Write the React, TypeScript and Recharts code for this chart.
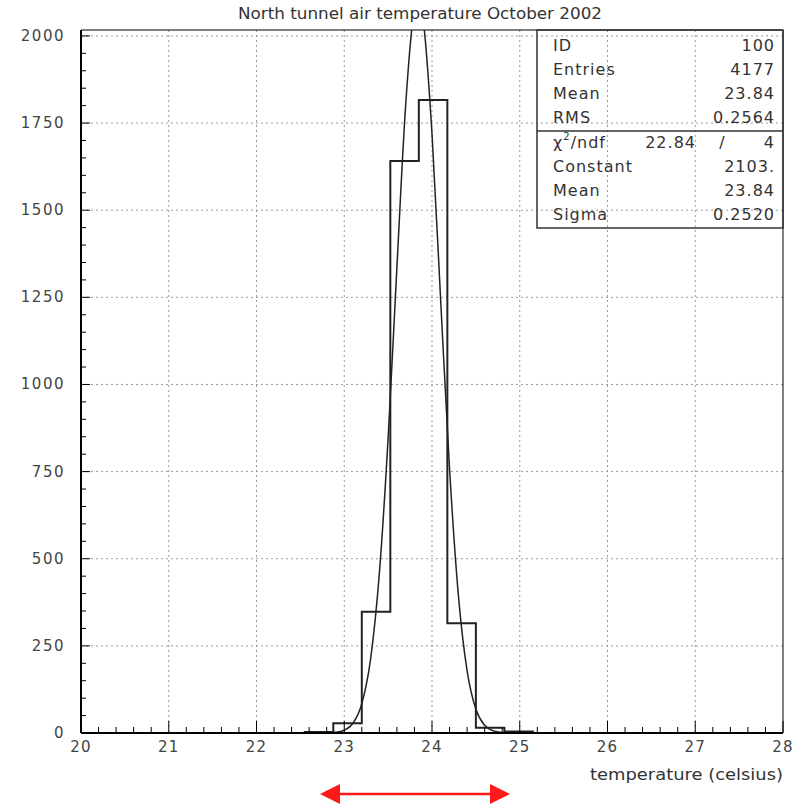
import { ComposedChart, Line, XAxis, YAxis, CartesianGrid, ReferenceArea } from "recharts";

// histogram bins (edges in celsius, counts per bin)
const binEdges = [22.55, 22.875, 23.2, 23.525, 23.85, 24.175, 24.5, 24.825, 25.15];
const binCounts = [3, 28, 348, 1641, 1816, 315, 15, 4];

// gaussian fit curve
const fitX = [22.7, 22.8, 22.9, 23.0, 23.1, 23.2, 23.3, 23.4, 23.5, 23.6, 23.7, 23.8, 23.84, 23.9, 24.0, 24.1, 24.2, 24.3, 24.4, 24.5, 24.6, 24.7, 24.8, 24.9];
const fitY = [0, 0.4, 2, 8, 28, 84, 212, 458, 846, 1336, 1802, 2077, 2103, 2044, 1719, 1235, 758, 397, 178, 68, 22, 6, 1.5, 0.3];

const xMajor = [20, 21, 22, 23, 24, 25, 26, 27, 28];
const yMajor = [0, 250, 500, 750, 1000, 1250, 1500, 1750, 2000];

const statsTop = [
  ["ID", "100"],
  ["Entries", "4177"],
  ["Mean", "23.84"],
  ["RMS", "0.2564"],
];
const statsFit = [
  ["Constant", "2103."],
  ["Mean", "23.84"],
  ["Sigma", "0.2520"],
];
const chiNdf = ["22.84", "4"];

const Y_MAX = 2017;
const ink = "#333";
const font = "'DejaVu Sans', sans-serif";

const xTicks: number[] = [];
xMajor.forEach((m, i) => {
  xTicks.push(m);
  if (i < xMajor.length - 1) [0.2, 0.4, 0.6, 0.8].forEach((f) => xTicks.push(+(m + f).toFixed(1)));
});
const yTicks: number[] = [];
yMajor.forEach((m, i) => {
  yTicks.push(m);
  if (i < yMajor.length - 1) [50, 100, 150, 200].forEach((f) => yTicks.push(m + f));
});

const histData: { x: number; y: number }[] = [{ x: binEdges[0], y: 0 }];
binCounts.forEach((c, i) => histData.push({ x: binEdges[i], y: c }));
histData.push({ x: binEdges[binEdges.length - 1], y: 0 });

const fitData = fitX.map((x, i) => ({ x, y: fitY[i] }));

const XTick = (props: any) => {
  const { x, y, payload } = props;
  const v = payload.value;
  const major = Math.abs(v - Math.round(v)) < 1e-6;
  return (
    <g>
      <line x1={x} y1={y} x2={x} y2={y - (major ? 12 : 6)} stroke="#000" strokeWidth={1} />
      {major && (
        <text x={x} y={y + 19} textAnchor="middle" fontFamily={font} fontSize={15} letterSpacing={1.2} fill="#444">
          {v}
        </text>
      )}
    </g>
  );
};

const YTick = (props: any) => {
  const { x, y, payload } = props;
  const v = payload.value;
  const major = v % 250 === 0;
  return (
    <g>
      <line x1={x} y1={y} x2={x + (major ? 9 : 5)} y2={y} stroke="#000" strokeWidth={1} />
      {major && (
        <text x={x - 16} y={y + 5} textAnchor="end" fontFamily={font} fontSize={15} letterSpacing={1.5} fill="#444">
          {v}
        </text>
      )}
    </g>
  );
};

export default function App() {
  return (
    <div style={{ position: "absolute", left: 0, top: 0, width: 798, height: 806, background: "#fff" }}>
      <ComposedChart width={798} height={806} margin={{ top: 30, right: 15, bottom: 72, left: 80 }}>
        <CartesianGrid
          stroke="#999"
          strokeDasharray="2 3"
          verticalValues={[21, 22, 23, 24, 25, 26, 27]}
          horizontalValues={[250, 500, 750, 1000, 1250, 1500, 1750, 2000]}
        />
        <XAxis
          type="number"
          dataKey="x"
          domain={[20, 28]}
          ticks={xTicks}
          interval={0}
          allowDataOverflow
          height={1}
          tickSize={0}
          tickMargin={0}
          tickLine={false}
          axisLine={{ stroke: "#000", strokeWidth: 2 }}
          tick={<XTick />}
        />
        <YAxis
          type="number"
          dataKey="y"
          domain={[0, Y_MAX]}
          ticks={yTicks}
          interval={0}
          allowDataOverflow
          width={1}
          tickSize={0}
          tickMargin={0}
          tickLine={false}
          axisLine={{ stroke: "#000", strokeWidth: 2 }}
          tick={<YTick />}
        />
        <Line
          data={histData}
          dataKey="y"
          type="stepAfter"
          stroke="#222"
          strokeWidth={2}
          dot={false}
          isAnimationActive={false}
        />
        <Line
          data={fitData}
          dataKey="y"
          type="monotone"
          stroke="#222"
          strokeWidth={1.5}
          dot={false}
          isAnimationActive={false}
        />
        <ReferenceArea x1={20} x2={28} y1={0} y2={Y_MAX} fill="none" stroke="#000" strokeWidth={1} />
      </ComposedChart>
      <svg
        width={798}
        height={806}
        style={{ position: "absolute", left: 0, top: 0, pointerEvents: "none" }}
        fontFamily={font}
        fill={ink}
      >
        <text x={420} y={19} textAnchor="middle" fontSize={16} textLength={364} lengthAdjust="spacingAndGlyphs">
          North tunnel air temperature October 2002
        </text>
        <text x={783} y={780} textAnchor="end" fontSize={15} textLength={193} lengthAdjust="spacingAndGlyphs">
          temperature (celsius)
        </text>

        <rect x={537} y={30} width={246} height={198} fill="none" stroke="#333" strokeWidth={1.5} />
        <line x1={537} y1={131} x2={783} y2={131} stroke="#333" strokeWidth={1.5} />
        {statsTop.map(([k, v], i) => (
          <g key={k}>
            <text x={553} y={51 + i * 24} fontSize={16} letterSpacing={1}>{k}</text>
            <text x={775} y={51 + i * 24} fontSize={16} letterSpacing={1} textAnchor="end">{v}</text>
          </g>
        ))}
        <text x={553} y={148} fontSize={16} letterSpacing={1}>
          χ<tspan fontSize={10} dy={-8}>2</tspan>
          <tspan dy={8}>/ndf</tspan>
        </text>
        <text x={696} y={148} fontSize={16} letterSpacing={1} textAnchor="end">{chiNdf[0]}</text>
        <text x={722} y={148} fontSize={16} textAnchor="middle">/</text>
        <text x={775} y={148} fontSize={16} letterSpacing={1} textAnchor="end">{chiNdf[1]}</text>
        {statsFit.map(([k, v], i) => (
          <g key={k + i}>
            <text x={553} y={172 + i * 24} fontSize={16} letterSpacing={1}>{k}</text>
            <text x={775} y={172 + i * 24} fontSize={16} letterSpacing={1} textAnchor="end">{v}</text>
          </g>
        ))}

        <line x1={336} y1={794} x2={494} y2={794} stroke="#ff1a1a" strokeWidth={2.5} />
        <polygon points="320,794 340,784 340,804" fill="#ff1a1a" />
        <polygon points="510,794 490,784 490,804" fill="#ff1a1a" />
      </svg>
    </div>
  );
}
